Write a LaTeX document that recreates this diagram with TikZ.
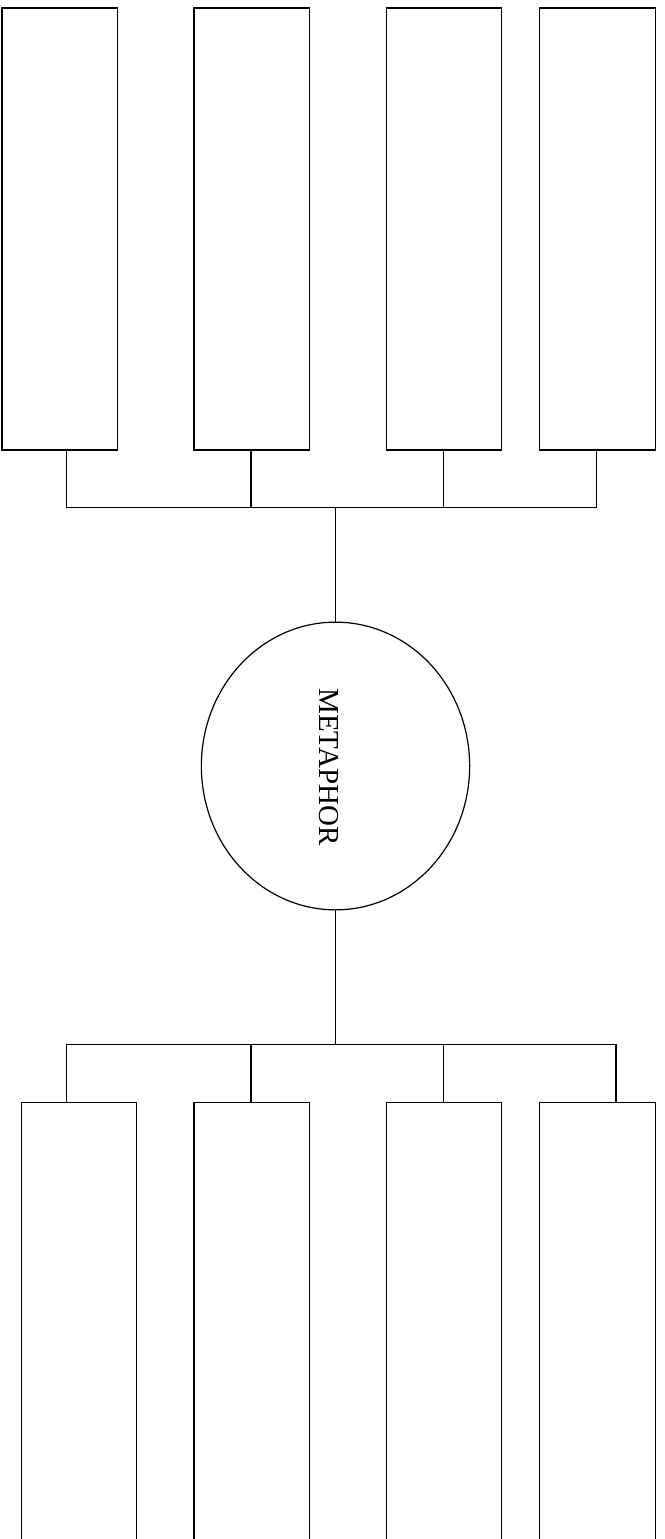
\documentclass[tikz,border=0pt]{standalone}
\usepackage{fontspec}
\setmainfont{Liberation Serif}
\usetikzlibrary{shapes.geometric}
\begin{document}
\begin{tikzpicture}[x=1pt,y=-1pt,line width=1.2pt,
  box/.style={draw,rectangle,inner sep=0pt,anchor=north west,minimum width=115.4pt},
  topbox/.style={box,minimum height=442pt},
  botbox/.style={box,minimum height=460pt},
  conn/.style={draw,line width=1.2pt}]
\useasboundingbox (0,0) rectangle (664,1539);
\clip (0,0) rectangle (664,1539);
% top boxes
\node[topbox] (t1) at (1.3,7.3) {};
\node[topbox] (t2) at (193.3,7.3) {};
\node[topbox,minimum width=115pt] (t3) at (385.7,7.3) {};
\node[topbox,minimum width=115.7pt] (t4) at (539,7.3) {};
% bottom boxes
\node[botbox,minimum width=115.3pt] (b1) at (20.7,1102) {};
\node[botbox] (b2) at (193.3,1102) {};
\node[botbox,minimum width=115pt] (b3) at (385.7,1102) {};
\node[botbox,minimum width=115.7pt] (b4) at (539,1102) {};
% ellipse
\node[draw,ellipse,inner sep=0pt,minimum width=268.3pt,minimum height=287.7pt] (e) at (335.5,766) {};
\node[rotate=-90,inner sep=0pt,font=\fontsize{29}{29}\selectfont] (lbl) at (329,767) {METAPHOR};
% junction coordinates
\coordinate (ta) at (66.7,507.3);
\coordinate (tb) at (251,507.3);
\coordinate (tc) at (443.3,507.3);
\coordinate (td) at (596.7,507.3);
\coordinate (tm) at (335.5,507.3);
\coordinate (ba) at (66.7,1044.7);
\coordinate (bb) at (251,1044.7);
\coordinate (bc) at (443.3,1044.7);
\coordinate (bd) at (616,1044.7);
\coordinate (bm) at (335.5,1044.7);
% top connectors
\draw[conn] (t1.south -| ta) -- (ta) -- (td) -- (t4.south -| td);
\draw[conn] (t2.south -| tb) -- (tb);
\draw[conn] (t3.south -| tc) -- (tc);
\draw[conn] (tm) -- (e.north);
% bottom connectors
\draw[conn] (e.south) -- (bm);
\draw[conn] (b1.north -| ba) -- (ba) -- (bd) -- (b4.north -| bd);
\draw[conn] (bb) -- (b2.north -| bb);
\draw[conn] (bc) -- (b3.north -| bc);
\end{tikzpicture}
\end{document}
